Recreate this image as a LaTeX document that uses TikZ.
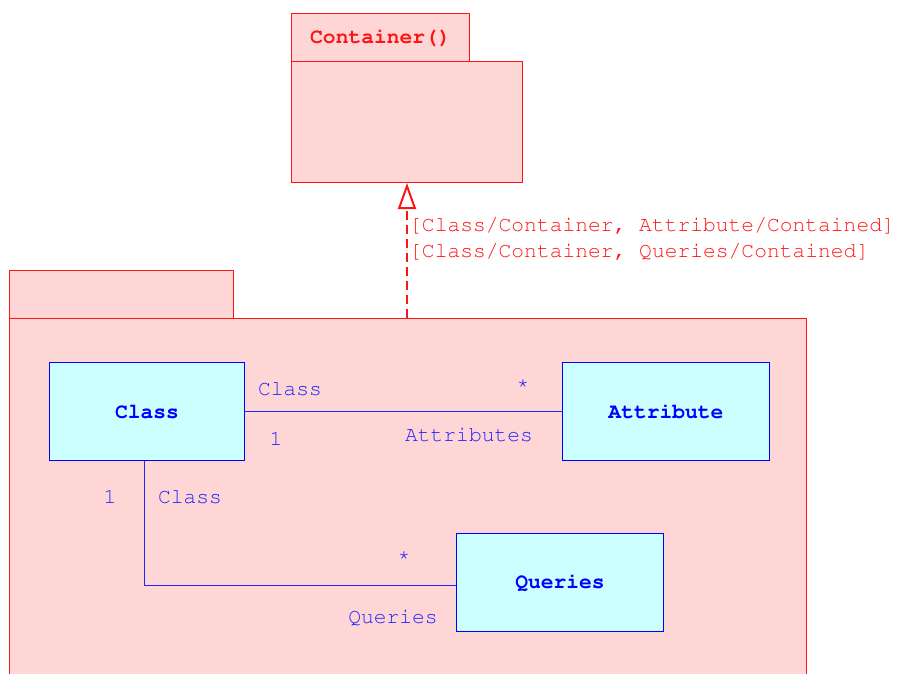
\documentclass[tikz,border=0pt]{standalone}
\usepackage[T1]{fontenc}
\usepackage{courier}
\usepackage{tikz}
\usetikzlibrary{arrows.meta}
\usepackage{xcolor}
\definecolor{pkgfill}{RGB}{255,214,214}
\definecolor{pkgline}{RGB}{255,20,20}
\definecolor{clsfill}{RGB}{204,255,255}
\definecolor{clsline}{RGB}{0,0,255}
\definecolor{rolecol}{RGB}{35,35,255}

\begin{document}
\begin{tikzpicture}[x=1pt, y=-1pt,
    font=\ttfamily\fontsize{21.3}{26}\selectfont,
    pkg/.style={draw=pkgline, fill=pkgfill, line width=1pt, anchor=north west,
                inner sep=0pt, text=pkgline},
    cls/.style={draw=clsline, fill=clsfill, line width=1pt, anchor=north west,
                minimum width=207pt, minimum height=98pt, inner sep=0pt,
                text=clsline, font=\ttfamily\bfseries\fontsize{21.3}{26}\selectfont},
    role/.style={text=rolecol, anchor=base, inner sep=0pt},
    assoc/.style={draw=rolecol, line width=1pt},
    bind/.style={text=pkgline, anchor=base west, inner sep=0pt},
  ]
  \useasboundingbox (0,0) rectangle (899,674);
  % Container package
  \node[pkg, minimum width=178pt, minimum height=48pt] (ctab) at (291,13) {\textbf{Container()}};
  \node[pkg, minimum width=231pt, minimum height=121pt] (cbody) at (291,61) {};
  % bound package
  \node[pkg, minimum width=224pt, minimum height=48pt] (ptab) at (9,270) {};
  \node[pkg, minimum width=797pt, minimum height=400pt] (pbody) at (9,318) {};
  % binding
  \draw[pkgline, line width=2pt, dash pattern=on 9pt off 5pt,
        -{Triangle[open, length=26pt, width=18pt, line width=2pt]}]
    (cbody.south |- pbody.north) -- (cbody.south);
  \node[bind] (bind1) at (409,231) {[Class/Container, Attribute/Contained]};
  \node[bind] (bind2) at (409,257) {[Class/Container, Queries/Contained]};
  % classes
  \node[cls, minimum width=195pt] (class) at (49,362) {Class};
  \node[cls] (attr) at (562,362) {Attribute};
  \node[cls] (queries) at (456,533) {Queries};
  % associations
  \draw[assoc] (class.east) -- (attr.west);
  \draw[assoc] ([xshift=-3pt]class.south) |- ([yshift=-3pt]queries.west);
  \node[role] (r1) at (290,395) {Class};
  \node[role] (m1) at (276,445) {1};
  \node[role] (m2) at (523,389) {*};
  \node[role] (r2) at (469,441) {Attributes};
  \node[role] (m3) at (110,503) {1};
  \node[role] (r3) at (190,503) {Class};
  \node[role] (m4) at (404,561) {*};
  \node[role] (r4) at (393,623) {Queries};
\end{tikzpicture}
\end{document}
